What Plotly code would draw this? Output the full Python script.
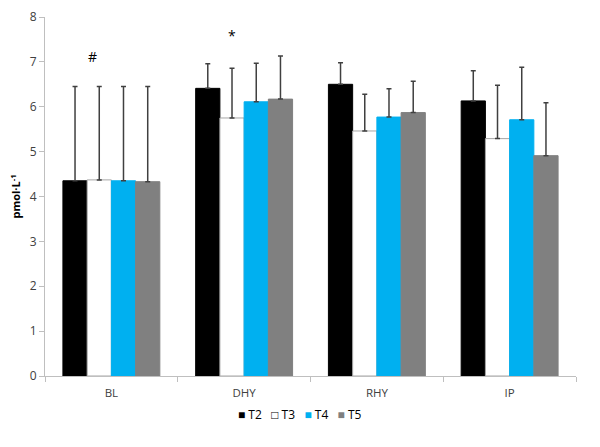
import plotly.graph_objects as go

categories = ["BL", "DHY", "RHY", "IP"]
series_names = ["T2", "T3", "T4", "T5"]
t2 = [4.35, 6.41, 6.50, 6.13]
t3 = [4.37, 5.75, 5.46, 5.29]
t4 = [4.35, 6.11, 5.77, 5.71]
t5 = [4.33, 6.17, 5.87, 4.91]
t2_err = [2.10, 0.55, 0.48, 0.67]
t3_err = [2.08, 1.11, 0.82, 1.19]
t4_err = [2.10, 0.86, 0.63, 1.17]
t5_err = [2.12, 0.96, 0.70, 1.18]
y_ticks = [0, 1, 2, 3, 4, 5, 6, 7, 8]

fills = ["#000000", "#ffffff", "#00b0f0", "#808080"]
lines = ["#000000", "#a6a6a6", "#00b0f0", "#808080"]
legend_symbols = ["■", "□", "■", "■"]
values = [t2, t3, t4, t5]
errs = [t2_err, t3_err, t4_err, t5_err]

fig = go.Figure()
for name, v, e, fc, lc in zip(series_names, values, errs, fills, lines):
    fig.add_trace(go.Bar(
        x=categories, y=v, name=name, showlegend=False,
        marker=dict(color=fc, line=dict(color=lc, width=1)),
        error_y=dict(type="data", array=e, symmetric=False, arrayminus=[0]*len(e),
                     color="#404040", thickness=1.5, width=2.5),
    ))

fig.add_annotation(x=-0.14, y=7.12, text="#", showarrow=False, xref="x", yref="y",
                   font=dict(size=14, color="#000000"))
fig.add_annotation(x=-0.09 + 1, y=7.58, text="*", showarrow=False, xref="x", yref="y",
                   font=dict(size=14, color="#000000"))

L, R, T, B = 45, 24, 17, 71
plot_w = 600 - L - R
plot_h = 447 - T - B

parts = []
for name, fc, sym in zip(series_names, fills, legend_symbols):
    col = "#000000" if fc == "#ffffff" else fc
    parts.append(f"<span style='color:{col}'>{sym}</span> {name}")
fig.add_annotation(x=(300 - L) / plot_w, xref="paper", y=(376 - 415) / plot_h, yref="paper",
                   yanchor="middle", xanchor="center",
                   text="   ".join(parts), showarrow=False,
                   font=dict(size=12, color="#000000"))

fig.update_layout(
    width=600, height=447,
    margin=dict(l=L, r=R, t=T, b=B, autoexpand=False),
    paper_bgcolor="white", plot_bgcolor="white",
    barmode="group", bargap=0.27, bargroupgap=0,
    font=dict(family="Open Sans, Liberation Sans, sans-serif", size=11, color="#404040"),
    showlegend=False,
    xaxis=dict(showline=True, linecolor="#bfbfbf", linewidth=1, ticks="outside",
               tickson="boundaries", tickcolor="#bfbfbf", ticklen=5, automargin=False,
               ticklabelstandoff=6,
               showgrid=False, tickfont=dict(size=11.5, color="#404040")),
    yaxis=dict(range=[0, 8], tickvals=y_ticks, showline=True, linecolor="#bfbfbf",
               linewidth=1, ticks="outside", tickcolor="#bfbfbf", ticklen=5, automargin=False,
               showgrid=False, zeroline=False, tickfont=dict(size=12, color="#404040"),
               title=dict(text="<b>pmol·L<sup>-1</sup></b>", font=dict(size=11, color="#000000"),
                          standoff=6)),
)

fig.write_html("out.html", config={"displayModeBar": False},
               post_script="document.body.style.margin='0';")
